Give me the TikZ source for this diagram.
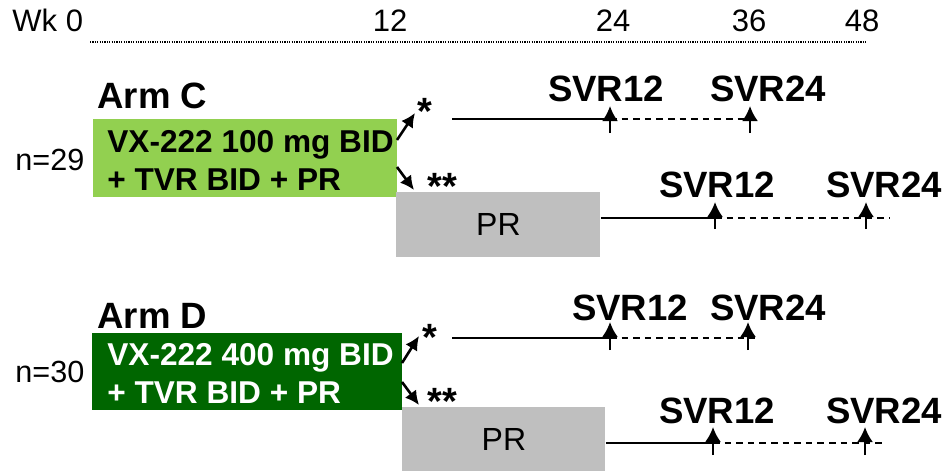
\documentclass[tikz,border=0pt]{standalone}
\usepackage{fontspec}
\setmainfont{Liberation Sans}
\usetikzlibrary{arrows.meta}
\definecolor{lgreen}{HTML}{92D050}
\definecolor{dgreen}{HTML}{006600}
\definecolor{prgray}{HTML}{BFBFBF}
\begin{document}
\begin{tikzpicture}[x=0.5pt,y=-0.5pt,
  wk/.style={font=\fontsize{15.5}{19}\selectfont, inner sep=0pt, anchor=base},
  svr/.style={font=\bfseries\fontsize{18.3}{22}\selectfont, inner sep=0pt, anchor=base},
  armlab/.style={font=\bfseries\fontsize{18.3}{22}\selectfont, inner sep=0pt, anchor=base west},
  nlab/.style={font=\fontsize{15.3}{18}\selectfont, inner sep=0pt, anchor=base west},
  boxtxt/.style={font=\bfseries\fontsize{15.8}{19}\selectfont, inner sep=0pt, anchor=base west},
  prtxt/.style={font=\fontsize{16}{19}\selectfont, inner sep=0pt},
  ast/.style={font=\bfseries\fontsize{19}{22}\selectfont, inner sep=0pt},
  armbox/.style={draw=none, anchor=north west, inner sep=0pt},
  prbox/.style={fill=prgray, draw=none, anchor=north west, inner sep=0pt},
  tl/.style={line width=1pt},
  tldash/.style={line width=1pt, dash pattern=on 3.3pt off 2.5pt},
  uparr/.style={line width=1.2pt, -{Latex[length=7.5pt,width=8pt]}},
  astarr/.style={line width=1.3pt, -{Latex[length=7pt,width=7pt]}}
]
\useasboundingbox (0,0) rectangle (946,471);

% axis
\node[wk, anchor=base west] (wk0) at (12,32) {Wk 0};
\node[wk] (wk12) at (390,32) {12};
\node[wk] (wk24) at (613,32) {24};
\node[wk] (wk36) at (749,32) {36};
\node[wk] (wk48) at (862,32) {48};
\coordinate (axL) at (90,42);
\coordinate (axR) at (866,42);
\draw[line width=0.8pt, dash pattern=on 0.6pt off 0.6pt] (axL) -- (axR);

% ---------- Arm C ----------
\node[armlab] (armC) at (97,108) {Arm C};
\node[nlab] (nC) at (15,170) {n=29};
\node[armbox, fill=lgreen, minimum width=152pt, minimum height=39pt] (boxC) at (93,119) {};
\node[boxtxt] (tC1) at (107,152) {VX-222 100 mg BID};
\node[boxtxt] (tC2) at (107,190) {+ TVR BID + PR};

\coordinate (cu0) at (397,140);
\coordinate (cu1) at (415,113);
\coordinate (cd0) at (397,167);
\coordinate (cd1) at (414,190);
\draw[astarr] (cu0) -- (cu1);
\draw[astarr] (cd0) -- (cd1);
\node[ast] (sC1) at (425,111) {*};
\node[ast] (sC2) at (442,186) {**};

\node[prbox, minimum width=102pt, minimum height=32.5pt] (prC) at (396,192) {};
\node[prtxt] (prCt) at (prC.center) {PR};

% row C1
\coordinate (c1s) at (452,119);
\coordinate (c1a) at (610,119);
\coordinate (c1e) at (757,119);
\draw[tl] (c1s) -- (c1a);
\draw[tldash] (c1a) -- (c1e);
\coordinate (c1ab) at (610,133);
\coordinate (c1at) at (610,106);
\coordinate (c1bb) at (750,133);
\coordinate (c1bt) at (750,106);
\draw[uparr] (c1ab) -- (c1at);
\draw[uparr] (c1bb) -- (c1bt);
\node[svr] (svrC1a) at (606,101) {SVR12};
\node[svr] (svrC1b) at (768,101) {SVR24};

% row C2
\coordinate (c2a) at (715,218);
\coordinate (c2e) at (890,218);
\draw[tl] (prC.east |- c2a) -- (c2a);
\draw[tldash] (c2a) -- (c2e);
\coordinate (c2ab) at (715,229);
\coordinate (c2at) at (715,202);
\coordinate (c2bb) at (866,229);
\coordinate (c2bt) at (866,202);
\draw[uparr] (c2ab) -- (c2at);
\draw[uparr] (c2bb) -- (c2bt);
\node[svr] (svrC2a) at (717,197) {SVR12};
\node[svr] (svrC2b) at (884,197) {SVR24};

% ---------- Arm D ----------
\node[armlab] (armD) at (97,328) {Arm D};
\node[nlab] (nD) at (15,382) {n=30};
\node[armbox, fill=dgreen, minimum width=155pt, minimum height=38.5pt] (boxD) at (92,333) {};
\node[boxtxt, text=white] (tD1) at (107,365) {VX-222 400 mg BID};
\node[boxtxt, text=white] (tD2) at (107,403) {+ TVR BID + PR};

\coordinate (du0) at (402,363);
\coordinate (du1) at (419,336);
\coordinate (dd0) at (402,382);
\coordinate (dd1) at (419,405);
\draw[astarr] (du0) -- (du1);
\draw[astarr] (dd0) -- (dd1);
\node[ast] (sD1) at (430,337) {*};
\node[ast] (sD2) at (442,401) {**};

\node[prbox, minimum width=101.5pt, minimum height=32pt] (prD) at (402,407) {};
\node[prtxt] (prDt) at (prD.center) {PR};

% row D1
\coordinate (d1s) at (452,338);
\coordinate (d1a) at (610,338);
\coordinate (d1e) at (755,338);
\draw[tl] (d1s) -- (d1a);
\draw[tldash] (d1a) -- (d1e);
\coordinate (d1ab) at (610,350);
\coordinate (d1at) at (610,322);
\coordinate (d1bb) at (748,350);
\coordinate (d1bt) at (748,322);
\draw[uparr] (d1ab) -- (d1at);
\draw[uparr] (d1bb) -- (d1bt);
\node[svr] (svrD1a) at (630,320) {SVR12};
\node[svr] (svrD1b) at (768,320) {SVR24};

% row D2
\coordinate (d2a) at (713,443);
\coordinate (d2e) at (882,443);
\draw[tl] (prD.east |- d2a) -- (d2a);
\draw[tldash] (d2a) -- (d2e);
\coordinate (d2ab) at (713,455);
\coordinate (d2at) at (713,427);
\coordinate (d2bb) at (865,455);
\coordinate (d2bt) at (865,427);
\draw[uparr] (d2ab) -- (d2at);
\draw[uparr] (d2bb) -- (d2bt);
\node[svr] (svrD2a) at (717,423) {SVR12};
\node[svr] (svrD2b) at (884,423) {SVR24};
\end{tikzpicture}
\end{document}
